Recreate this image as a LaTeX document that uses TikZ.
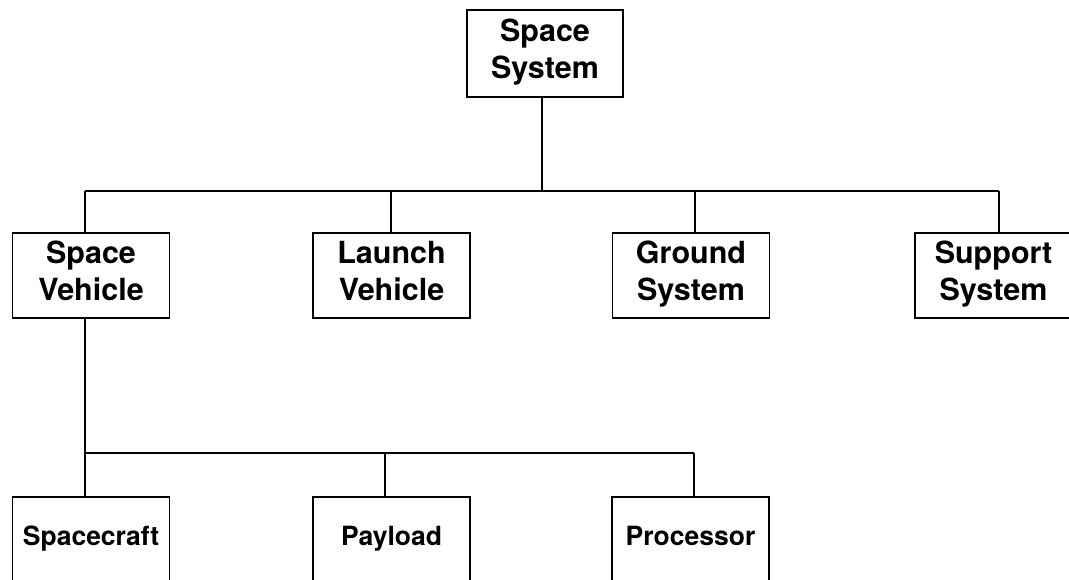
\documentclass[tikz,border=0pt]{standalone}
\usepackage{fontspec}
\setmainfont{TeX Gyre Heros}
\usepackage{tikz}

\tikzset{
  unit/.style={draw, line width=1.8pt, inner sep=0pt, align=center,
    minimum width=157pt, minimum height=85pt,
    font=\bfseries\fontsize{30.5}{37}\selectfont,
    execute at begin node={\rule{0pt}{22pt}},
    execute at end node={\rule[-10pt]{0pt}{10pt}}},
  leaf/.style={unit, font=\bfseries\fontsize{26.5}{32}\selectfont,
    execute at begin node={\rule{0pt}{19.5pt}},
    execute at end node={\rule[-4pt]{0pt}{4pt}}},
  wire/.style={line width=1.8pt}
}

\begin{document}
\begin{tikzpicture}[x=1pt, y=-1pt]
    \useasboundingbox (0,0) rectangle (1069,579);
    \clip (0,0) rectangle (1069,579);
    % top level
    \node[unit, minimum width=156pt, minimum height=87pt] (top) at (545,53.5) {Space\\System};
    % second level
    \node[unit] (sv) at (91,275.5) {Space\\Vehicle};
    \node[unit] (lv) at (391.5,275.5) {Launch\\Vehicle};
    \node[unit] (gs) at (691,275.5) {Ground\\System};
    \node[unit] (ss) at (993.5,275.5) {Support\\System};
    % third level
    \node[leaf] (sc) at (91,539.5) {Spacecraft};
    \node[leaf] (pl) at (391.5,539.5) {Payload};
    \node[leaf] (pr) at (690.5,539.5) {Processor};
    % bus junctions
    \coordinate (t0) at (542,191);
    \coordinate (b1) at (85,191);
    \coordinate (b2) at (391,191);
    \coordinate (b3) at (695,191);
    \coordinate (b4) at (999,191);
    \coordinate (c1) at (85,453);
    \coordinate (c2) at (385,453);
    \coordinate (c3) at (694,453);
    % connectors
    \draw[wire] (t0 |- top.south) -- (t0);
    \draw[wire] (b1) -- (b4);
    \draw[wire] (b1) -- (b1 |- sv.north);
    \draw[wire] (b2) -- (b2 |- lv.north);
    \draw[wire] (b3) -- (b3 |- gs.north);
    \draw[wire] (b4) -- (b4 |- ss.north);
    \draw[wire] (c1 |- sv.south) -- (c1 |- sc.north);
    \draw[wire] (c1) -- (c3);
    \draw[wire] (c2) -- (c2 |- pl.north);
    \draw[wire] (c3) -- (c3 |- pr.north);
\end{tikzpicture}
\end{document}
